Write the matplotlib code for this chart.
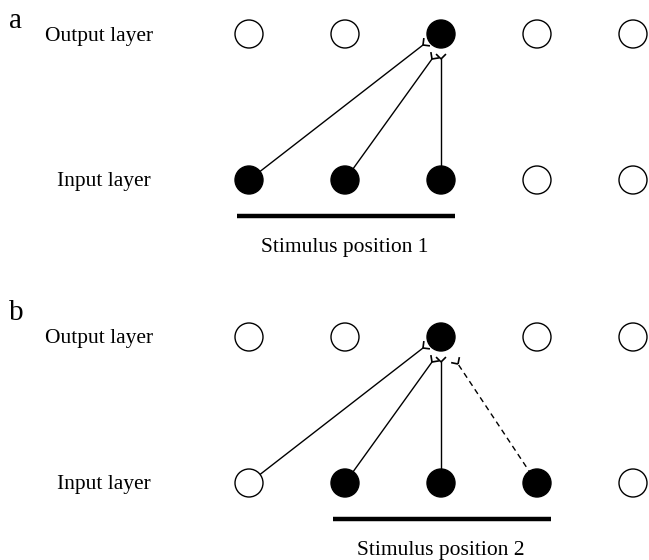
import numpy as np
import matplotlib.pyplot as plt
from matplotlib.patches import Circle

plt.rcParams['font.family'] = ['Liberation Serif', 'DejaVu Serif']

# node states per panel (1 = active / filled)
panels = ["a", "b"]
output_active = [[0, 0, 1, 0, 0], [0, 0, 1, 0, 0]]
input_active = [[1, 1, 1, 0, 0], [0, 1, 1, 1, 0]]
# connections onto the output unit at index 2: (input index, style)
connections = [
    [(0, "-"), (1, "-"), (2, "-")],
    [(0, "-"), (1, "-"), (2, "-"), (3, "--")],
]
target_unit = 2
# stimulus spans (first and last input unit covered)
stim_span = [(0, 2), (1, 3)]
stim_labels = ["Stimulus position 1", "Stimulus position 2"]

# layout in pixels
W, H = 649, 560
col_x0, col_dx = 249, 96
out_y = [34, 337]
in_y = [180, 483]
radius = 14
# where each input's synapse sits relative to the output unit centre
term_offset = {0: (-18, 11), 1: (-9, 25), 2: (0, 25), 3: (17, 27)}

fig = plt.figure(figsize=(W / 100, H / 100), dpi=100)
ax = fig.add_axes([0, 0, 1, 1])
ax.set_xlim(0, W)
ax.set_ylim(H, 0)
ax.set_aspect('equal')
ax.axis('off')


def draw_fork(ax, p, d):
    # Y-shaped synaptic terminal at point p, opening along unit vector d
    L = 7
    for ang in (np.radians(45), -np.radians(45)):
        c, s = np.cos(ang), np.sin(ang)
        r = np.array([d[0] * c - d[1] * s, d[0] * s + d[1] * c])
        q = p + L * r
        ax.plot([p[0], q[0]], [p[1], q[1]], color='black', lw=1.2,
                solid_capstyle='butt', zorder=2)


for k, name in enumerate(panels):
    xs = col_x0 + col_dx * np.arange(5)
    # connections
    tx, ty = xs[target_unit], out_y[k]
    for idx, style in connections[k]:
        sx, sy = xs[idx], in_y[k]
        ox, oy = term_offset[idx]
        end = np.array([tx + ox, ty + oy], dtype=float)
        d = end - np.array([sx, sy])
        d /= np.hypot(*d)
        ax.plot([sx, end[0]], [sy, end[1]], color='black', lw=1.0,
                linestyle=(0, (4, 3)) if style == "--" else '-', zorder=1)
        draw_fork(ax, end, d)
    # neurons
    for row_y, states in ((out_y[k], output_active[k]), (in_y[k], input_active[k])):
        for x, on in zip(xs, states):
            ax.add_patch(Circle((x, row_y), radius, facecolor='black' if on else 'white',
                                edgecolor='black', lw=1.0, zorder=3))
    # stimulus bar
    a, b = stim_span[k]
    ax.plot([xs[a] - 12, xs[b] + 14], [in_y[k] + 35.5] * 2, color='black', lw=3.2,
            solid_capstyle='butt')
    ax.text((xs[a] + xs[b]) / 2, in_y[k] + 72, stim_labels[k], ha='center',
            va='baseline', fontsize=15.5)
    # labels
    ax.text(99, out_y[k] + 6.5, "Output layer", ha='center', va='baseline', fontsize=15.5)
    ax.text(103.5, in_y[k] + 6, "Input layer", ha='center', va='baseline', fontsize=15.5)
    ax.text(9, out_y[k] - 6 if k == 0 else out_y[k] - 17, name, ha='left',
            va='baseline', fontsize=21)

fig.savefig("out.png", dpi=100)
